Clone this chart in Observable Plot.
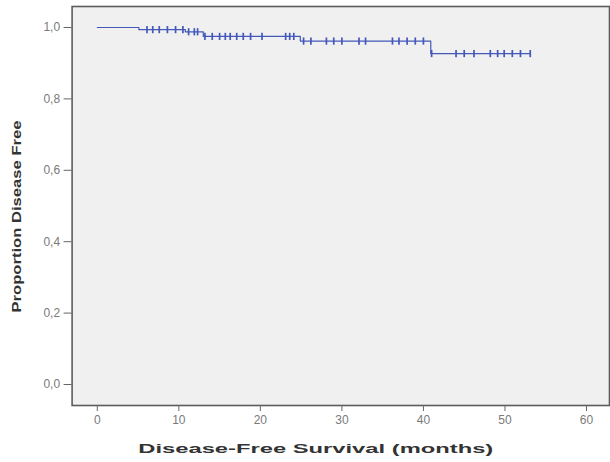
<!DOCTYPE html>
<html><head><meta charset="utf-8">
<script src="https://cdn.jsdelivr.net/npm/d3@7"></script>
<script src="https://cdn.jsdelivr.net/npm/@observablehq/plot@0.6"></script>
<style>body{margin:0;background:#fff}svg{display:block}</style>
</head><body><div id="chart"></div>
<script>
const eventTimes = [0, 5.1, 10.8, 13.0, 24.9, 40.9];
const survival = [1.0, 0.994, 0.988, 0.975, 0.962, 0.927];
const censorTimes = [6.1, 6.8, 7.6, 8.6, 9.6, 10.5, 11.2, 11.9, 12.3, 13.2, 14.1, 15.0, 15.7, 16.3, 17.1, 17.9, 18.8, 20.2, 23.1, 23.6, 24.1, 25.3, 26.2, 28.1, 29.0, 30.0, 32.1, 32.9, 36.2, 37.0, 38.0, 39.0, 40.0, 41.0, 44.0, 45.0, 46.2, 48.2, 49.1, 49.9, 50.9, 51.9, 53.1];
const xTicks = [0, 10, 20, 30, 40, 50, 60];
const yTicks = [0, 0.2, 0.4, 0.6, 0.8, 1.0];
const xTitle = "Disease-Free Survival (months)";
const yTitle = "Proportion Disease Free";

const blue = "#4358b8";
const level = t => { let s = survival[0]; eventTimes.forEach((e, i) => { if (e <= t) s = survival[i]; }); return s; };
const stepData = eventTimes.map((t, i) => ({t, s: survival[i]}));
stepData.push({t: d3.max(censorTimes), s: level(d3.max(censorTimes))});
const censors = censorTimes.map(t => ({t, s: level(t)}));
const vbar = {draw(ctx, size) { const r = Math.sqrt(size / Math.PI); ctx.moveTo(0, -r); ctx.lineTo(0, r); }};

const svg = Plot.plot({
  width: 610, height: 462,
  marginLeft: 71.6, marginRight: 1, marginTop: 6, marginBottom: 57,
  style: {fontFamily: "'Liberation Sans', Arial, sans-serif", fontSize: "12px", background: "#fff"},
  x: {domain: [-3.09, 62.82]},
  y: {domain: [-0.0588, 1.0588]},
  marks: [
    Plot.frame({fill: "#f0f0f0", stroke: "#5c5c5c", strokeWidth: 1.6}),
    Plot.axisX({ticks: xTicks, tickSize: 6, tickPadding: 4, stroke: "#666", color: "#7a7a7a", label: null}),
    Plot.axisY({ticks: yTicks, tickSize: 8, tickPadding: 4, stroke: "#666", color: "#7a7a7a", label: null, tickFormat: d => d.toFixed(1).replace(".", ",")}),
    Plot.line(stepData, {x: "t", y: "s", curve: "step-after", stroke: blue, strokeWidth: 1.2}),
    Plot.dot(censors, {x: "t", y: "s", symbol: vbar, r: 3.6, stroke: blue, strokeWidth: 1.7}),
    Plot.text([xTitle], {frameAnchor: "bottom", dy: 47, dx: -25, fill: "#333", fontWeight: "bold", fontSize: 13}),
    Plot.text([yTitle], {frameAnchor: "left", textAnchor: "start", dx: -55, dy: 106.5, rotate: -90, fill: "#333", fontWeight: "bold", fontSize: 13})
  ]
});
d3.select(svg).selectAll("text").each(function() {
  if (this.textContent === xTitle) d3.select(this).attr("textLength", 355).attr("lengthAdjust", "spacingAndGlyphs");
  if (this.textContent === yTitle) d3.select(this).attr("textLength", 192).attr("lengthAdjust", "spacingAndGlyphs");
});
document.getElementById("chart").appendChild(svg);
</script>
</body></html>
